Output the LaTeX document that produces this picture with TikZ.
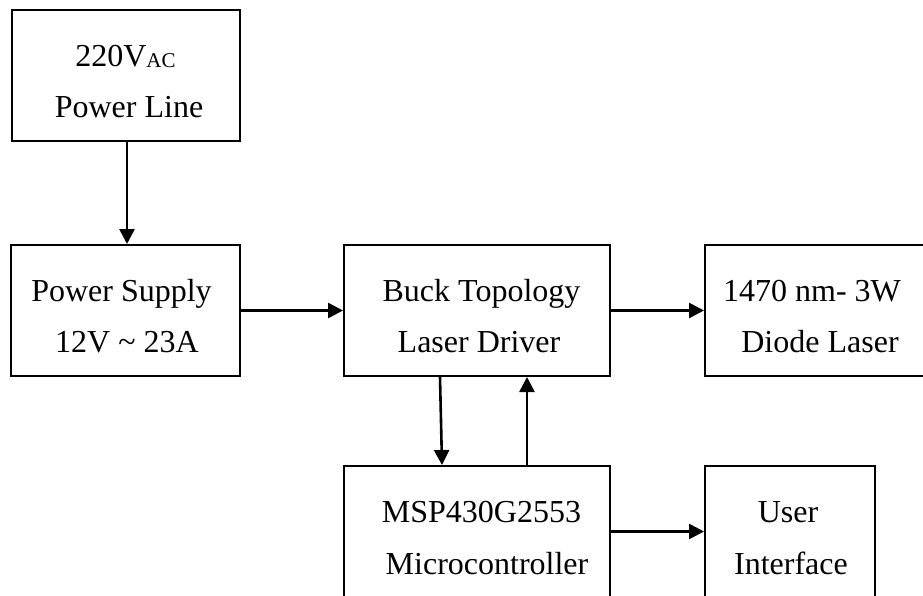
\documentclass[tikz,border=0pt]{standalone}
\usepackage{fontspec}
\setmainfont{Liberation Serif}
\usetikzlibrary{arrows.meta,calc}
\begin{document}
\begin{tikzpicture}[x=1pt,y=-1pt,
  box/.style={draw,line width=2pt,rectangle,inner sep=0pt,minimum height=131pt},
  txt/.style={anchor=base,inner sep=0pt,font=\fontsize{32}{38}\selectfont},
  arr/.style={line width=2.6pt,-{Triangle[length=15pt,width=15pt]}}]
\useasboundingbox (0,0) rectangle (923,596);
\clip (0,0) rectangle (923,596);
% boxes
\node[box,minimum width=228pt] (pl) at (126,75.5) {};
\node[box,minimum width=229pt] (ps) at (125.5,310.5) {};
\node[box,minimum width=266pt] (buck) at (477,310.5) {};
\node[box,minimum width=222pt] (diode) at (816,310.5) {};
\node[box,minimum width=266pt] (msp) at (477,531.5) {};
\node[box,minimum width=170pt] (ui) at (790,531.5) {};
% texts
\node[txt] (t1a) at (125.5,67) {220V\raisebox{-1pt}{\fontsize{21}{21}\selectfont AC}};
\node[txt] (t1b) at (129,118) {Power Line};
\node[txt] (t2a) at (121.5,301) {Power Supply};
\node[txt] (t2b) at (127,352) {12V \char`~{} 23A};
\node[txt] (t3a) at (481.5,301) {Buck Topology};
\node[txt] (t3b) at (479,352) {Laser Driver};
\node[txt] (t4a) at (812,301) {1470 nm- 3W};
\node[txt] (t4b) at (820,352) {Diode Laser};
\node[txt] (t5a) at (481.5,522) {MSP430G2553};
\node[txt] (t5b) at (487,574) {Microcontroller};
\node[txt] (t6a) at (788,522) {User};
\node[txt] (t6b) at (791,574) {Interface};
% connectors
\draw[arr] ([xshift=1pt]pl.south) -- ([xshift=1.5pt]ps.north);
\draw[arr] (ps.east) -- (buck.west);
\draw[arr] (buck.east) -- (diode.west);
\draw[arr] ([xshift=-37pt]buck.south) -- ([xshift=-35pt]msp.north);
\draw[arr] ([xshift=50pt]msp.north) -- ([xshift=50pt]buck.south);
\draw[arr] (msp.east) -- (ui.west);
\end{tikzpicture}
\end{document}
